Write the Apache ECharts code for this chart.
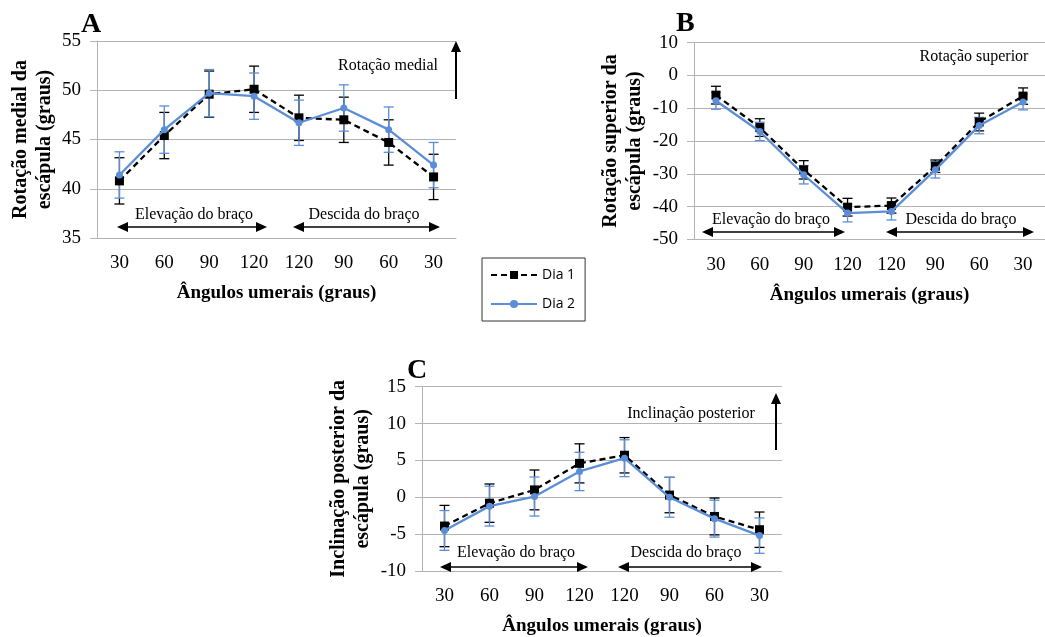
<!DOCTYPE html>
<html>
<head>
<meta charset="utf-8">
<script src="https://cdn.jsdelivr.net/npm/echarts@6/dist/echarts.min.js"></script>
<style>html,body{margin:0;padding:0;background:#fff}#c{width:1045px;height:637px}</style>
</head>
<body>
<div id="c"></div>
<script>
const categories = ['30','60','90','120','120','90','60','30'];

// Panel A – Rotação medial
const aDia1 = [40.8, 45.4, 49.6, 50.1, 47.2, 47.0, 44.7, 41.2];
const aDia1Sd = [2.35, 2.35, 2.35, 2.35, 2.3, 2.3, 2.3, 2.3];
const aDia2 = [41.4, 46.0, 49.7, 49.4, 46.7, 48.2, 46.0, 42.4];
const aDia2Sd = [2.35, 2.4, 2.4, 2.35, 2.3, 2.35, 2.3, 2.3];

// Panel B – Rotação superior
const bDia1 = [-6.0, -15.9, -28.8, -40.2, -39.7, -27.7, -14.2, -6.3];
const bDia1Sd = [2.7, 2.7, 2.8, 2.7, 2.3, 1.9, 2.7, 2.5];
const bDia2 = [-7.7, -17.1, -30.3, -42.0, -41.5, -28.8, -15.3, -8.1];
const bDia2Sd = [2.6, 2.8, 2.8, 2.7, 2.6, 2.5, 2.5, 2.4];

// Panel C – Inclinação posterior
const cDia1 = [-3.9, -0.8, 1.0, 4.6, 5.7, 0.3, -2.6, -4.4];
const cDia1Sd = [2.8, 2.6, 2.7, 2.65, 2.4, 2.4, 2.5, 2.4];
const cDia2 = [-4.5, -1.2, 0.1, 3.5, 5.3, 0.0, -2.9, -5.2];
const cDia2Sd = [2.7, 2.7, 2.65, 2.6, 2.5, 2.7, 2.5, 2.4];

const yNames = ['Rotação medial da\nescápula (graus)', 'Rotação superior da\nescápula (graus)', 'Inclinação posterior da\nescápula (graus)'];
const xName = 'Ângulos umerais (graus)';
const yMin = [35, -50, -10], yMax = [55, 10, 15], yInt = [5, 10, 5];

const SERIF = "'Liberation Serif', 'DejaVu Serif', serif";
const BLACK = '#000000', BLUE = '#5B8ED6', GRID = '#B3B3B3';

const grids = [
  {left: 97, top: 41, width: 359, height: 197},
  {left: 694, top: 42.7, width: 355, height: 196.6},
  {left: 422, top: 386.7, width: 360, height: 185}
];
const nameGaps = [40, 47, 47];

const xAxes = grids.map((g, i) => ({
  type: 'category', gridIndex: i, data: categories, boundaryGap: true,
  axisLine: {show: true, lineStyle: {color: GRID, width: 1}},
  axisTick: {show: false},
  axisLabel: {color: BLACK, fontFamily: SERIF, fontSize: 19, margin: 16, interval: 0},
  name: xName, nameLocation: 'middle', nameGap: 46,
  nameTextStyle: {color: BLACK, fontFamily: SERIF, fontSize: 19, fontWeight: 'bold'}
}));
const yAxes = grids.map((g, i) => ({
  type: 'value', gridIndex: i, min: yMin[i], max: yMax[i], interval: yInt[i],
  axisLine: {show: true, lineStyle: {color: GRID, width: 1}},
  axisTick: {show: true, length: 7, lineStyle: {color: GRID}},
  splitLine: {show: true, lineStyle: {color: GRID, width: 1}},
  axisLabel: {color: BLACK, fontFamily: SERIF, fontSize: 19, margin: 16},
  name: yNames[i], nameLocation: 'middle', nameRotate: 90, nameGap: nameGaps[i],
  nameTextStyle: {color: BLACK, fontFamily: SERIF, fontSize: 20, fontWeight: 'bold', lineHeight: 24}
}));

function errData(mean, sd) {
  return mean.map((m, i) => [i, +(m - sd[i]).toFixed(2), +(m + sd[i]).toFixed(2)]);
}
function errSeries(idx, mean, sd, color, z) {
  return {
    type: 'custom', name: 'err', xAxisIndex: idx, yAxisIndex: idx, z: z, silent: true,
    data: errData(mean, sd), encode: {x: 0, y: [1, 2]},
    renderItem: function (params, api) {
      const x = api.value(0);
      const p1 = api.coord([x, api.value(1)]);
      const p2 = api.coord([x, api.value(2)]);
      const hw = 5;
      const st = {stroke: color, lineWidth: 1.3};
      return {type: 'group', children: [
        {type: 'line', shape: {x1: p1[0], y1: p1[1], x2: p2[0], y2: p2[1]}, style: st},
        {type: 'line', shape: {x1: p1[0] - hw, y1: p1[1], x2: p1[0] + hw, y2: p1[1]}, style: st},
        {type: 'line', shape: {x1: p2[0] - hw, y1: p2[1], x2: p2[0] + hw, y2: p2[1]}, style: st}
      ]};
    }
  };
}
function dia1(idx, data) {
  return {type: 'line', name: 'Dia 1', xAxisIndex: idx, yAxisIndex: idx, data: data, z: 3,
    symbol: 'rect', symbolSize: 9, showAllSymbol: true,
    lineStyle: {color: BLACK, width: 2.3, type: [6, 4]}, itemStyle: {color: BLACK}};
}
function dia2(idx, data) {
  return {type: 'line', name: 'Dia 2', xAxisIndex: idx, yAxisIndex: idx, data: data, z: 4,
    symbol: 'circle', symbolSize: 7, showAllSymbol: true,
    lineStyle: {color: BLUE, width: 2.3}, itemStyle: {color: BLUE}};
}

const series = [
  dia1(0, aDia1), dia2(0, aDia2), errSeries(0, aDia1, aDia1Sd, BLACK, 1), errSeries(0, aDia2, aDia2Sd, BLUE, 2),
  dia1(1, bDia1), dia2(1, bDia2), errSeries(1, bDia1, bDia1Sd, BLACK, 1), errSeries(1, bDia2, bDia2Sd, BLUE, 2),
  dia1(2, cDia1), dia2(2, cDia2), errSeries(2, cDia1, cDia1Sd, BLACK, 1), errSeries(2, cDia2, cDia2Sd, BLUE, 2)
];

// annotation helpers
function txt(str, x, y, size, bold, align) {
  return {type: 'text', x: x, y: y, z: 10, style: {text: str, fill: BLACK, fontFamily: SERIF,
    fontSize: size, fontWeight: bold ? 'bold' : 'normal', align: align || 'center', verticalAlign: 'middle'}};
}
function head(x, y, dir) { // dir: 'l','r','u'
  const L = 11, W = 5;
  let pts;
  if (dir === 'l') pts = [[x, y], [x + L, y - W], [x + L, y + W]];
  else if (dir === 'r') pts = [[x, y], [x - L, y - W], [x - L, y + W]];
  else pts = [[x, y], [x - W, y + L], [x + W, y + L]];
  return {type: 'polygon', z: 10, shape: {points: pts}, style: {fill: BLACK}};
}
function dblArrow(x1, x2, y) {
  return [
    {type: 'line', z: 10, shape: {x1: x1 + 6, y1: y, x2: x2 - 6, y2: y}, style: {stroke: BLACK, lineWidth: 1.6}},
    head(x1, y, 'l'), head(x2, y, 'r')
  ];
}
function upArrow(x, yTop, yBot) {
  return [
    {type: 'line', z: 10, shape: {x1: x, y1: yTop + 6, x2: x, y2: yBot}, style: {stroke: BLACK, lineWidth: 2}},
    head(x, yTop, 'u')
  ];
}

const graphic = [
  txt('A', 81, 25, 28, true, 'left'),
  txt('Rotação medial', 388, 66, 16, false),
  ...upArrow(456, 41, 99),
  txt('Elevação do braço', 194, 215, 16, false),
  ...dblArrow(117, 267, 227),
  txt('Descida do braço', 364, 215, 16, false),
  ...dblArrow(293, 440, 227),

  txt('B', 676, 24, 28, true, 'left'),
  txt('Rotação superior', 974, 57, 16, false),
  txt('Elevação do braço', 771, 220, 16, false),
  ...dblArrow(702, 845, 232),
  txt('Descida do braço', 961, 220, 16, false),
  ...dblArrow(886, 1034, 232),

  txt('C', 407, 371, 28, true, 'left'),
  txt('Inclinação posterior', 691, 414, 16, false),
  ...upArrow(776, 393, 450),
  txt('Elevação do braço', 516, 553, 16, false),
  ...dblArrow(440, 588, 567),
  txt('Descida do braço', 686, 553, 16, false),
  ...dblArrow(618, 762, 567)
];

const chart = echarts.init(document.getElementById('c'), null, {renderer: 'canvas'});
chart.setOption({
  backgroundColor: '#ffffff',
  animation: false,
  grid: grids,
  xAxis: xAxes,
  yAxis: yAxes,
  legend: {
    data: ['Dia 1', 'Dia 2'], orient: 'vertical', left: 482, top: 258,
    width: 100, padding: [10, 10, 10, 8], itemGap: 15, itemWidth: 46, itemHeight: 10,
    borderColor: '#333', borderWidth: 1,
    textStyle: {fontFamily: "'Open Sans', 'Liberation Sans', sans-serif", fontSize: 14, color: '#000'}
  },
  series: series,
  graphic: graphic
});
</script>
</body>
</html>
